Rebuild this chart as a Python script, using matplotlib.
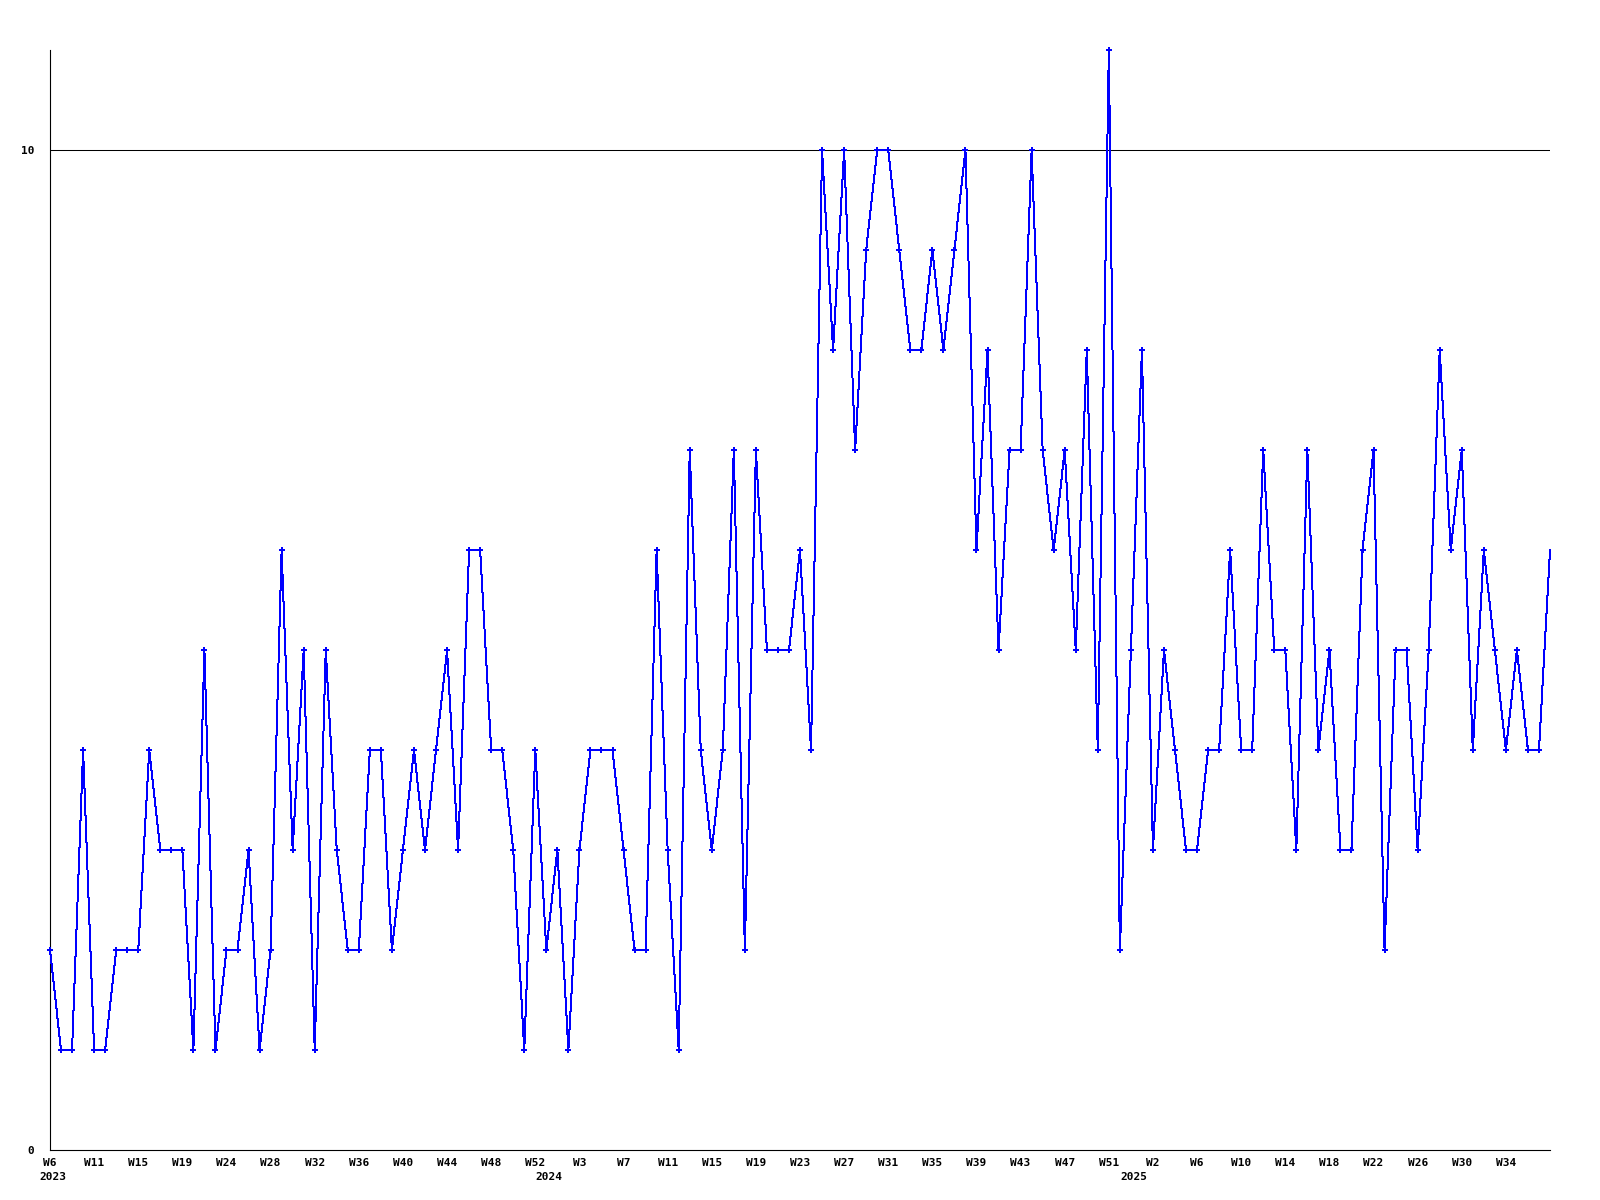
import matplotlib
matplotlib.use("Agg")
import matplotlib.pyplot as plt
import matplotlib.transforms as mtransforms

# Weekly values (W6 2023 onward)
values = [
    2, 1, 1, 4, 1, 1, 2, 2, 2, 4,
    3, 3, 3, 1, 5, 1, 2, 2, 3, 1,
    2, 6, 3, 5, 1, 5, 3, 2, 2, 4,
    4, 2, 3, 4, 3, 4, 5, 3, 6, 6,
    4, 4, 3, 1, 4, 2, 3, 1, 3, 4,
    4, 4, 3, 2, 2, 6, 3, 1, 7, 4,
    3, 4, 7, 2, 7, 5, 5, 5, 6, 4,
    10, 8, 10, 7, 9, 10, 10, 9, 8, 8,
    9, 8, 9, 10, 6, 8, 5, 7, 7, 10,
    7, 6, 7, 5, 8, 4, 11, 2, 5, 8,
    3, 5, 4, 3, 3, 4, 4, 6, 4, 4,
    7, 5, 5, 3, 7, 4, 5, 3, 3, 6,
    7, 2, 5, 5, 3, 5, 8, 6, 7, 4,
    6, 5, 4, 5, 4, 4, 6,
]

week_labels = ["W6", "W11", "W15", "W19", "W24", "W28", "W32", "W36", "W40",
               "W44", "W48", "W52", "W3", "W7", "W11", "W15", "W19", "W23",
               "W27", "W31", "W35", "W39", "W43", "W47", "W51", "W2", "W6",
               "W10", "W14", "W18", "W22", "W26", "W30", "W34"]
week_label_step = 4

years = ["2023", "2024", "2025"]
year_start_index = [0, 45, 98]

y_ticks = [0, 10]

fig = plt.figure(figsize=(16, 12), dpi=100)
ax = fig.add_axes([50 / 1600, 50 / 1200, 1500 / 1600, 1100 / 1200])

x = list(range(len(values)))
ax.plot(x, values, color="#0000ff", linewidth=0.72, antialiased=False,
        marker="P", markersize=4.4, markeredgewidth=0,
        markevery=slice(0, len(values) - 1), zorder=3, clip_on=False)

ax.set_xlim(0, len(values) - 1)
ax.set_ylim(0, 11)

# grid line at 10
ax.axhline(10, color="black", linewidth=0.75, zorder=2)

for s in ("top", "right"):
    ax.spines[s].set_visible(False)
for s in ("left", "bottom"):
    ax.spines[s].set_color("black")
    ax.spines[s].set_linewidth(0.8)

font = dict(family="DejaVu Sans Mono", weight="bold", size=8)

ax.set_yticks(y_ticks)
ax.set_yticklabels([str(v) for v in y_ticks], **font)
ax.tick_params(axis="y", length=0, pad=11.5)

tick_pos = [i * week_label_step for i in range(len(week_labels))]
ax.set_xticks(tick_pos)
ax.set_xticklabels(week_labels, **font)
ax.tick_params(axis="x", length=0, pad=5.5)

offset = mtransforms.ScaledTranslation(3 / 100, 0, fig.dpi_scale_trans)
trans = mtransforms.blended_transform_factory(ax.transData, ax.transAxes) + offset
for pos, yr in zip(year_start_index, years):
    ax.text(pos, -27 / 1100, yr, transform=trans, ha="center", va="center", **font)

fig.savefig("out.png", dpi=100)
